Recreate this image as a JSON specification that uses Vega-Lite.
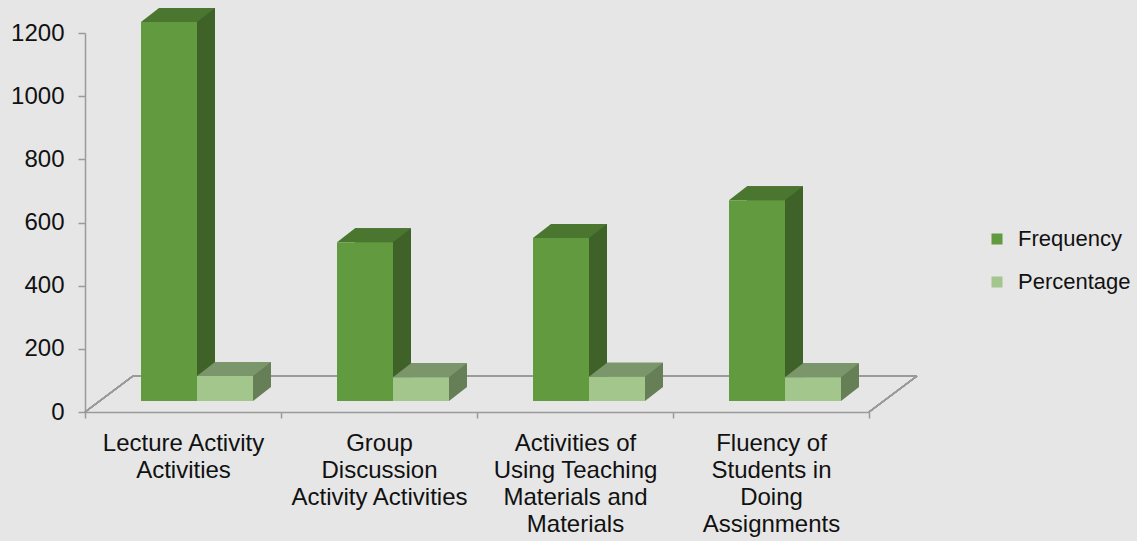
{
  "$schema": "https://vega.github.io/schema/vega-lite/v6.json",
  "width": 784,
  "height": 379,
  "autosize": {"type": "none"},
  "padding": {"left": 85, "top": 33, "right": 268, "bottom": 129},
  "background": "#e6e6e6",
  "config": {
    "view": {"stroke": null},
    "font": "Liberation Sans",
    "axis": {"grid": false, "title": null, "domainColor": "#9a9a9a", "domainWidth": 1.5, "tickColor": "#9a9a9a", "tickWidth": 1.5, "labelColor": "#111111", "labelFont": "Liberation Sans"},
    "legend": {"labelFont": "Liberation Sans"}
  },
  "data": {
    "values": [
      {"category": "Lecture Activity Activities", "series": "Frequency", "value": 1200},
      {"category": "Lecture Activity Activities", "series": "Percentage", "value": 79},
      {"category": "Group Discussion Activity Activities", "series": "Frequency", "value": 503},
      {"category": "Group Discussion Activity Activities", "series": "Percentage", "value": 75},
      {"category": "Activities of Using Teaching Materials and Materials", "series": "Frequency", "value": 516},
      {"category": "Activities of Using Teaching Materials and Materials", "series": "Percentage", "value": 77},
      {"category": "Fluency of Students in Doing Assignments", "series": "Frequency", "value": 636},
      {"category": "Fluency of Students in Doing Assignments", "series": "Percentage", "value": 75}
    ]
  },
  "layer": [
    {
      "mark": {"type": "rule", "color": "#9a9a9a", "strokeWidth": 1.5, "xOffset": -50, "x2Offset": 146, "yOffset": -36},
      "encoding": {
        "x": {"datum": "Lecture Activity Activities", "type": "nominal"},
        "x2": {"datum": "Fluency of Students in Doing Assignments"},
        "y": {"datum": 0, "type": "quantitative"}
      }
    },
    {
      "mark": {"type": "rule", "color": "#9a9a9a", "strokeWidth": 1.5, "xOffset": -98, "x2Offset": -50, "y2Offset": -36},
      "encoding": {
        "x": {"datum": "Lecture Activity Activities", "type": "nominal"},
        "x2": {"datum": "Lecture Activity Activities"},
        "y": {"datum": 0, "type": "quantitative"},
        "y2": {"datum": 0}
      }
    },
    {
      "mark": {"type": "rule", "color": "#9a9a9a", "strokeWidth": 1.5, "xOffset": 98, "x2Offset": 146, "y2Offset": -36},
      "encoding": {
        "x": {"datum": "Fluency of Students in Doing Assignments", "type": "nominal"},
        "x2": {"datum": "Fluency of Students in Doing Assignments"},
        "y": {"datum": 0, "type": "quantitative"},
        "y2": {"datum": 0}
      }
    },
    {
      "transform": [{"filter": "datum.series === 'Frequency'"}],
      "mark": {"type": "bar", "width": 56, "color": "#3f6229", "xOffset": 4, "yOffset": -25, "y2Offset": -25},
      "encoding": {
        "x": {
          "field": "category", "type": "nominal",
          "scale": {"type": "band", "paddingInner": 0, "paddingOuter": 0, "domain": ["Lecture Activity Activities", "Group Discussion Activity Activities", "Activities of Using Teaching Materials and Materials", "Fluency of Students in Doing Assignments"]},
          "axis": {
            "tickBand": "extent", "tickSize": 6, "labelAngle": 0, "labelAlign": "center", "labelFontSize": 24, "labelLineHeight": 27, "labelPadding": 25, "labelLimit": 0,
            "labelExpr": "datum.value === 'Lecture Activity Activities' ? ['Lecture Activity', 'Activities'] : datum.value === 'Group Discussion Activity Activities' ? ['Group', 'Discussion', 'Activity Activities'] : datum.value === 'Activities of Using Teaching Materials and Materials' ? ['Activities of', 'Using Teaching', 'Materials and', 'Materials'] : datum.value === 'Fluency of Students in Doing Assignments' ? ['Fluency of', 'Students in', 'Doing', 'Assignments'] : ''"
          }
        },
        "y": {
          "field": "value", "type": "quantitative",
          "scale": {"domain": [0, 1200], "nice": false},
          "axis": {"values": [0, 200, 400, 600, 800, 1000, 1200], "format": "d", "tickSize": 7, "labelPadding": 14, "labelFontSize": 24}
        }
      }
    },
    {
      "transform": [{"filter": "datum.series === 'Frequency'"}],
      "mark": {"type": "point", "shape": "M-1,0L1,0L1.643,-0.5L-0.357,-0.5Z", "size": 3136, "filled": true, "opacity": 1, "strokeWidth": 0, "color": "#4b7630", "xOffset": -14, "yOffset": -11},
      "encoding": {
        "x": {"field": "category", "type": "nominal"},
        "y": {"field": "value", "type": "quantitative"}
      }
    },
    {
      "transform": [{"filter": "datum.series === 'Frequency'"}],
      "mark": {"type": "bar", "width": 56, "xOffset": -14, "yOffset": -11, "y2Offset": -11},
      "encoding": {
        "x": {"field": "category", "type": "nominal"},
        "y": {"field": "value", "type": "quantitative"},
        "color": {
          "field": "series", "type": "nominal",
          "scale": {"domain": ["Frequency", "Percentage"], "range": ["#629b3f", "#a3c68d"]},
          "legend": {"title": null, "orient": "none", "legendX": 901, "legendY": 195, "symbolType": "square", "symbolSize": 121, "symbolStrokeWidth": 0, "labelFontSize": 22, "labelColor": "#111111", "labelOffset": 10, "rowPadding": 21, "padding": 0}
        }
      }
    },
    {
      "transform": [{"filter": "datum.series === 'Percentage'"}],
      "mark": {"type": "bar", "width": 56, "color": "#667f57", "xOffset": 60, "yOffset": -25, "y2Offset": -25},
      "encoding": {
        "x": {"field": "category", "type": "nominal"},
        "y": {"field": "value", "type": "quantitative"}
      }
    },
    {
      "transform": [{"filter": "datum.series === 'Percentage'"}],
      "mark": {"type": "point", "shape": "M-1,0L1,0L1.643,-0.5L-0.357,-0.5Z", "size": 3136, "filled": true, "opacity": 1, "strokeWidth": 0, "color": "#7b966b", "xOffset": 42, "yOffset": -11},
      "encoding": {
        "x": {"field": "category", "type": "nominal"},
        "y": {"field": "value", "type": "quantitative"}
      }
    },
    {
      "transform": [{"filter": "datum.series === 'Percentage'"}],
      "mark": {"type": "point", "shape": "M1,0L1.643,-0.5L1,-0.5Z", "size": 3136, "filled": true, "opacity": 1, "strokeWidth": 0, "color": "#667f57", "xOffset": 42, "yOffset": -11},
      "encoding": {
        "x": {"field": "category", "type": "nominal"},
        "y": {"datum": 0, "type": "quantitative"}
      }
    },
    {
      "transform": [{"filter": "datum.series === 'Percentage'"}],
      "mark": {"type": "bar", "width": 56, "xOffset": 42, "yOffset": -11, "y2Offset": -11},
      "encoding": {
        "x": {"field": "category", "type": "nominal"},
        "y": {"field": "value", "type": "quantitative"},
        "color": {"field": "series", "type": "nominal"}
      }
    }
  ]
}
